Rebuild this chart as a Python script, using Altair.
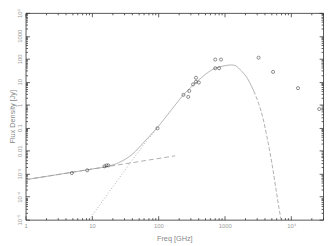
import altair as alt
import pandas as pd

# ---- data ----
# measured flux densities (GHz, Jy)
obs_freq = [4.97, 8.47, 15.4, 16.5, 17.6, 96.8, 238, 281, 291, 332, 367, 367, 406,
            716, 875, 716, 818, 3214, 5310, 12600, 26300]
obs_flux = [0.00107, 0.0014, 0.0021, 0.0023, 0.0023, 0.095, 2.7, 2.2, 4.0, 7.7, 15, 10, 9.3,
            93, 93, 39, 39, 112, 27, 5.3, 0.65]

# power-law (dashed) component
sync_freq = [1, 178]
sync_flux = [5.5e-4, 6.0e-3]

# dust component, low-frequency part (dotted)
dust_freq = [9.06, 15.8, 25.1, 39.8, 63.1, 96.8]
dust_flux = [1e-5, 9.3e-5, 5.9e-4, 3.7e-3, 0.022, 0.10]

# total model (solid)
total_freq = [1, 3.16, 10, 15.8, 25.1, 39.8, 63.1, 96.8, 158, 230, 367, 716, 1000, 1220,
              1400, 1710, 2150, 2720]
total_flux = [5.5e-4, 9.3e-4, 1.6e-3, 2.0e-3, 3.0e-3, 6.8e-3, 0.027, 0.105, 0.62, 2.4, 9.3,
              39, 50, 54, 52, 33, 15, 4.0]

# Wien tail of the model (dashed)
tail_freq = [2720, 3210, 3800, 4200, 4650, 5310, 5860, 6490, 7080]
tail_flux = [4.0, 1.15, 0.22, 0.056, 0.0126, 1.4e-3, 2.2e-4, 3.5e-5, 8e-6]

x_tick_labels = ["1", "10", "100", "1000", "10⁴"]
y_tick_labels = ["10⁻⁵", "10⁻⁴", "10⁻³", "0.01", "0.1", "1", "10", "100", "1000", "10⁴"]

# ---- build tables ----
rows = []
for name, fs, ss in [("sync", sync_freq, sync_flux), ("dust", dust_freq, dust_flux),
                     ("total", total_freq, total_flux), ("tail", tail_freq, tail_flux)]:
    for f, s in zip(fs, ss):
        rows.append({"series": name, "f": f, "s": s})
lines_df = pd.DataFrame(rows)
pts_df = pd.DataFrame({"f": obs_freq, "s": obs_flux})

x_ticks = [k * 10 ** e for e in range(0, 5) for k in range(1, 10) if k * 10 ** e <= 30000]
y_ticks = [k * 10.0 ** e for e in range(-5, 4) for k in range(1, 10)] + [1e4]

is_major = "abs(log(datum.value)/LN10 - round(log(datum.value)/LN10)) < 0.001"
tick_size = alt.ExprRef(f"({is_major}) ? -4 : -2")
x_lab = "[" + ",".join(f"'{t}'" for t in x_tick_labels) + "]"
y_lab = "[" + ",".join(f"'{t}'" for t in y_tick_labels) + "]"

FONT = "Liberation Sans"
common = dict(grid=False, domain=False, tickColor="#333", tickWidth=0.8,
              labelFont=FONT, labelFontSize=6, labelColor="#999",
              titleFont=FONT, titleFontSize=7.5, titleColor="#888", titleFontWeight="normal",
              labelOverlap=False)

bottom_axis = alt.Axis(orient="bottom", values=x_ticks, tickSize=tick_size, labelPadding=7.5,
                       labelExpr=f"({is_major}) ? {x_lab}[round(log(datum.value)/LN10)] : ''",
                       labelFlush=False, title="Freq [GHz]", titleY=19, titleBaseline="middle",
                       **common)
left_axis = alt.Axis(orient="left", values=y_ticks, tickSize=tick_size, labelPadding=7.5,
                     labelAngle=270, labelAlign="center", labelBaseline="bottom",
                     labelExpr=f"({is_major}) ? {y_lab}[round(log(datum.value)/LN10)+5] : ''",
                     labelFlush=True, labelFlushOffset=2,
                     title="Flux Density [Jy]", titleX=-13.5, titleAngle=270,
                     titleBaseline="middle", **common)
top_axis = alt.Axis(orient="top", values=x_ticks, tickSize=tick_size, labels=False, title=None,
                    grid=False, domain=False, tickColor="#333", tickWidth=0.8)
right_axis = alt.Axis(orient="right", values=y_ticks, tickSize=tick_size, labels=False, title=None,
                      grid=False, domain=False, tickColor="#333", tickWidth=0.8)

xs = alt.Scale(type="log", domain=[1, 30000], nice=False)
ys = alt.Scale(type="log", domain=[1e-5, 1e4], nice=False)

lines = alt.Chart(lines_df).mark_line(clip=True, strokeWidth=0.8, color="#999",
                                      interpolate="monotone").encode(
    x=alt.X("f:Q", scale=xs, axis=bottom_axis),
    y=alt.Y("s:Q", scale=ys, axis=left_axis),
    strokeDash=alt.StrokeDash("series:N", legend=None,
                              scale=alt.Scale(domain=["sync", "dust", "total", "tail"],
                                              range=[[5, 3], [1, 2], [1, 0], [4, 2]])),
    detail="series:N",
)

points = alt.Chart(pts_df).mark_point(shape="circle", size=10, filled=False, color="#333",
                                      strokeWidth=0.8, clip=True).encode(
    x=alt.X("f:Q", scale=xs, axis=top_axis),
    y=alt.Y("s:Q", scale=ys, axis=right_axis),
)

chart = alt.layer(lines, points).resolve_axis(x="independent", y="independent").properties(
    width=305, height=212, autosize="none",
    padding={"left": 18, "top": 2, "right": 1, "bottom": 24},
).configure_view(stroke="#555", strokeWidth=1)

chart.save("out.html", embed_options={"renderer": "svg", "actions": False})
